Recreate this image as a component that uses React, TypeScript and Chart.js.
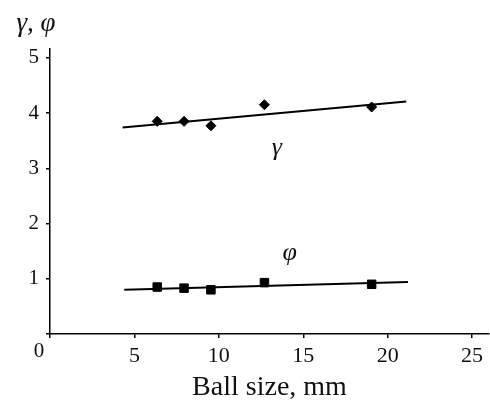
import React, { useEffect, useRef } from "react";
import { Chart, registerables } from "chart.js";

Chart.register(...registerables);

// Data
const ballSizes = [6.35, 7.94, 9.53, 12.7, 19.05];
const gammaValues = [3.85, 3.85, 3.77, 4.15, 4.11];
const phiValues = [0.85, 0.83, 0.8, 0.93, 0.9];
const gammaFitX = [4.3, 21.1];
const gammaFitY = [3.74, 4.21];
const phiFitX = [4.4, 21.2];
const phiFitY = [0.8, 0.94];
const xTickLabels = [5, 10, 15, 20, 25];
const yTickLabels = [1, 2, 3, 4, 5];

const SERIF = "'Liberation Serif', 'Times New Roman', serif";

const labelsPlugin = {
  id: "customLabels",
  afterDraw(chart: any) {
    const ctx = chart.ctx;
    const xs = chart.scales.x;
    const ys = chart.scales.y;
    ctx.save();
    ctx.fillStyle = "#111";
    ctx.textAlign = "center";
    ctx.textBaseline = "middle";
    // origin label
    ctx.font = `21px ${SERIF}`;
    ctx.fillText("0", chart.chartArea.left - 11, chart.chartArea.bottom + 17);
    // y-axis title
    ctx.font = `italic 27px ${SERIF}`;
    ctx.fillText("γ, φ", chart.chartArea.left - 14, 24);
    // series labels
    ctx.font = `italic 26px ${SERIF}`;
    ctx.fillText("γ", xs.getPixelForValue(13.43), ys.getPixelForValue(3.37));
    ctx.fillText("φ", xs.getPixelForValue(14.2), ys.getPixelForValue(1.47));
    ctx.restore();
  },
};

export default function App() {
  const ref = useRef<HTMLCanvasElement | null>(null);

  useEffect(() => {
    if (!ref.current) return;
    const chart = new Chart(ref.current, {
      type: "scatter",
      data: {
        datasets: [
          {
            type: "line",
            data: gammaFitX.map((x, i) => ({ x, y: gammaFitY[i] })),
            borderColor: "#000",
            borderWidth: 2,
            pointRadius: 0,
            fill: false,
          } as any,
          {
            type: "line",
            data: phiFitX.map((x, i) => ({ x, y: phiFitY[i] })),
            borderColor: "#000",
            borderWidth: 2,
            pointRadius: 0,
            fill: false,
          } as any,
          {
            data: ballSizes.map((x, i) => ({ x, y: gammaValues[i] })),
            pointStyle: "rectRot",
            pointRadius: 5,
            backgroundColor: "#000",
            borderColor: "#000",
            borderWidth: 1,
          },
          {
            data: ballSizes.map((x, i) => ({ x, y: phiValues[i] })),
            pointStyle: "rect",
            pointRadius: 6,
            backgroundColor: "#000",
            borderColor: "#000",
            borderWidth: 1,
          },
        ],
      },
      options: {
        animation: false,
        responsive: false,
        events: [],
        layout: { autoPadding: false, padding: { top: 49, right: 1, left: 0, bottom: 0 } },
        plugins: {
          legend: { display: false },
          tooltip: { enabled: false },
          title: { display: false },
        },
        scales: {
          x: {
            type: "linear",
            min: 0,
            max: 26,
            afterFit: (s: any) => {
              s.height = 70;
            },
            border: { display: true, color: "#000", width: 1.5 },
            grid: {
              drawOnChartArea: false,
              drawTicks: true,
              tickLength: 4,
              color: "#000",
              lineWidth: 1.5,
            },
            ticks: {
              stepSize: 5,
              includeBounds: false,
              padding: 5,
              color: "#111",
              font: { family: SERIF, size: 22 },
              maxRotation: 0,
              callback: (v: any) => (xTickLabels.includes(Number(v)) ? String(v) : ""),
            },
            title: {
              display: true,
              text: "Ball size, mm",
              color: "#111",
              font: { family: SERIF, size: 28 },
              padding: { top: 0, bottom: 0 },
            },
          },
          y: {
            type: "linear",
            min: 0,
            max: 5.16,
            afterFit: (s: any) => {
              s.width = 50;
            },
            border: { display: true, color: "#000", width: 1.5 },
            grid: {
              drawOnChartArea: false,
              drawTicks: true,
              tickLength: 4,
              color: "#000",
              lineWidth: 1.5,
            },
            ticks: {
              stepSize: 1,
              includeBounds: false,
              padding: 7,
              color: "#111",
              font: { family: SERIF, size: 21 },
              callback: (v: any) => (yTickLabels.includes(Number(v)) ? String(v) : ""),
            },
          },
        },
      },
      plugins: [labelsPlugin],
    } as any);
    return () => chart.destroy();
  }, []);

  return (
    <div style={{ position: "absolute", left: 0, top: 0, width: 490, height: 404, background: "#fff" }}>
      <canvas ref={ref} width={490} height={404} style={{ display: "block" }} />
    </div>
  );
}
